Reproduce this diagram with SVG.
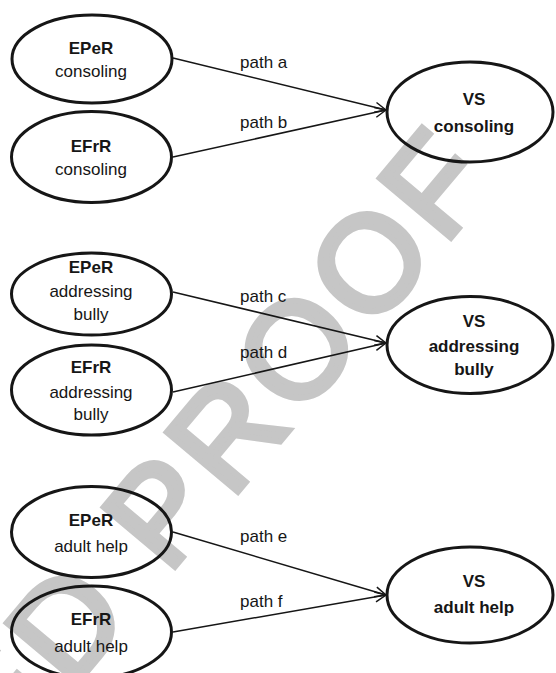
<svg xmlns="http://www.w3.org/2000/svg" width="556" height="673" viewBox="0 0 556 673">
<style>
.wm{font-family:"Liberation Sans",Arial,sans-serif;font-size:135px;letter-spacing:8px;fill:#c6c6c6;stroke:#c6c6c6;stroke-width:6}
.node ellipse{fill:none;stroke:#161616;stroke-width:3}
.node text{font-family:"Liberation Sans",Arial,sans-serif;font-size:17px;fill:#161616;text-anchor:middle}
.b{font-weight:bold}
.edge{stroke:#161616;stroke-width:1.5;fill:none;marker-end:url(#arr)}
.lbl{font-family:"Liberation Sans",Arial,sans-serif;font-size:17px;fill:#161616}
</style>
<defs>
<marker id="arr" markerUnits="userSpaceOnUse" viewBox="0 0 12 12" refX="11.5" refY="6" markerWidth="12" markerHeight="12" orient="auto">
<path d="M0.5,1 L11.5,6 L0.5,11" fill="none" stroke="#161616" stroke-width="1.5"/>
</marker>
</defs>
<rect width="556" height="673" fill="#ffffff"/>
<text class="wm" transform="translate(502,177) rotate(-50)" text-anchor="end">ED PROOF</text>
<g id="connectors">
<line class="edge" x1="173" y1="58" x2="386" y2="110"/>
<line class="edge" x1="173" y1="157" x2="386" y2="110"/>
<line class="edge" x1="173" y1="292" x2="386" y2="343"/>
<line class="edge" x1="173" y1="392" x2="386" y2="343"/>
<line class="edge" x1="173" y1="532" x2="386" y2="595"/>
<line class="edge" x1="173" y1="632" x2="386" y2="595"/>
<text class="lbl" x="240" y="68">path a</text>
<text class="lbl" x="240" y="128">path b</text>
<text class="lbl" x="240" y="302">path c</text>
<text class="lbl" x="240" y="358">path d</text>
<text class="lbl" x="240" y="542">path e</text>
<text class="lbl" x="240" y="607">path f</text>
</g>
<g id="eper-consoling" class="node">
<ellipse cx="92" cy="59" rx="80" ry="44"/>
<text x="91" y="54" class="b">EPeR</text>
<text x="91" y="77">consoling</text>
</g>
<g id="efrr-consoling" class="node">
<ellipse cx="91.5" cy="157" rx="80" ry="45.5"/>
<text x="91" y="152" class="b">EFrR</text>
<text x="91" y="175">consoling</text>
</g>
<g id="vs-consoling" class="node">
<ellipse cx="470" cy="112" rx="83" ry="50"/>
<text x="474" y="105" class="b">VS</text>
<text x="474" y="132" class="b">consoling</text>
</g>
<g id="eper-addressing" class="node">
<ellipse cx="91.5" cy="294" rx="80" ry="41"/>
<text x="91" y="273" class="b">EPeR</text>
<text x="91" y="297">addressing</text>
<text x="91" y="320">bully</text>
</g>
<g id="efrr-addressing" class="node">
<ellipse cx="91.5" cy="390" rx="80" ry="45"/>
<text x="91" y="373" class="b">EFrR</text>
<text x="91" y="398">addressing</text>
<text x="91" y="420">bully</text>
</g>
<g id="vs-addressing" class="node">
<ellipse cx="470" cy="345" rx="83" ry="48.5"/>
<text x="474" y="327" class="b">VS</text>
<text x="474" y="352" class="b">addressing</text>
<text x="474" y="375" class="b">bully</text>
</g>
<g id="eper-adult" class="node">
<ellipse cx="91.5" cy="532" rx="80" ry="45.5"/>
<text x="91" y="526" class="b">EPeR</text>
<text x="91" y="552">adult help</text>
</g>
<g id="efrr-adult" class="node">
<ellipse cx="91.5" cy="632" rx="80" ry="46"/>
<text x="91" y="625" class="b">EFrR</text>
<text x="91" y="652">adult help</text>
</g>
<g id="vs-adult" class="node">
<ellipse cx="470" cy="595" rx="83" ry="48"/>
<text x="474" y="587" class="b">VS</text>
<text x="474" y="613" class="b">adult help</text>
</g>
</svg>
